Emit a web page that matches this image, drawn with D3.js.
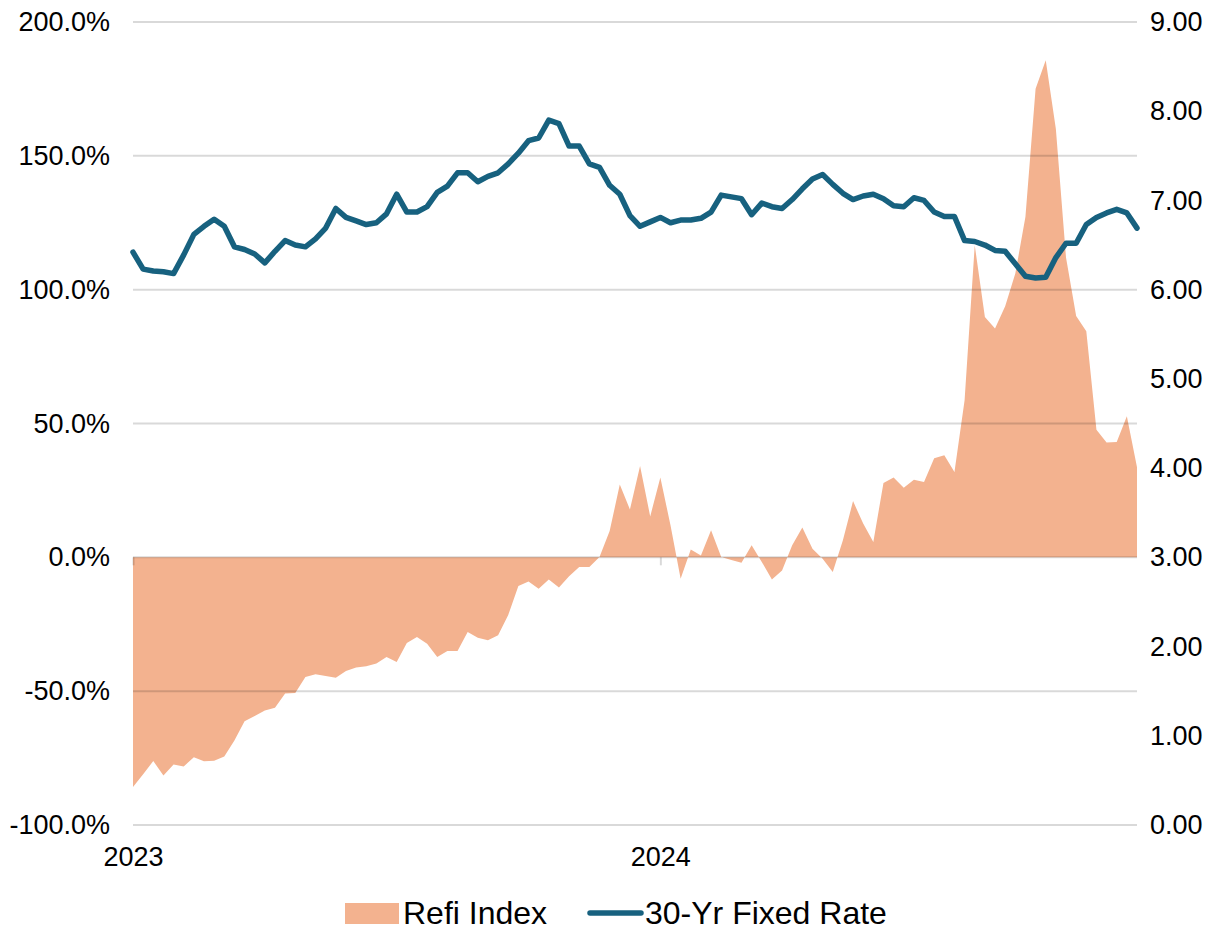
<!DOCTYPE html>
<html>
<head>
<meta charset="utf-8">
<script src="https://cdn.jsdelivr.net/npm/d3@7"></script>
<style>
	html, body { margin: 0; padding: 0; background: #fff; }
	#chart { width: 1217px; height: 929px; }
	text { font-family: 'Liberation Sans', Arial, sans-serif; fill: #000; }
</style>
</head>
<body>
<div id="chart"></div>
<script>

// weekly MBA data, first week ending Jan 6 2023, last Nov 29 2024
const firstWeek = '2023-01-06';

// refi index, % change year over year
const refiIndex = [
	-85.8, -81.0, -76.1, -81.5, -77.4, -78.1, -74.7, -76.2, -76.0, -74.4,
	-68.4, -61.2, -59.3, -57.2, -56.2, -50.9, -50.7, -44.7, -43.7, -44.3,
	-45.0, -42.5, -41.2, -40.7, -39.7, -37.2, -39.1, -32.0, -29.8, -32.3,
	-37.2, -35.0, -35.0, -27.9, -30.0, -31.0, -29.1, -21.5, -10.7, -9.0,
	-11.7, -8.3, -11.3, -7.1, -3.6, -3.6, 0.1, 9.8, 27.2, 17.9,
	34.1, 15.3, 29.8, 12.0, -8.0, 2.9, 0.7, 10.1, 0.1, -1.0,
	-2.0, 4.5, -1.7, -8.3, -4.9, 4.5, 11.1, 3.2, -0.5, -5.5,
	6.4, 21.0, 12.6, 5.7, 27.8, 29.8, 26.0, 29.0, 28.1, 37.0,
	38.1, 31.9, 58.7, 116.6, 89.8, 85.5, 93.8, 106.0, 127.2, 175.1,
	185.7, 160.0, 112.0, 90.2, 84.5, 47.7, 42.9, 43.1, 52.7, 33.7
];

// 30-yr fixed contract rate, %
const fixedRate = [
	6.42, 6.23, 6.21, 6.20, 6.18, 6.39, 6.62, 6.71, 6.79, 6.71,
	6.48, 6.45, 6.40, 6.30, 6.43, 6.55, 6.50, 6.48, 6.57, 6.69,
	6.91, 6.81, 6.77, 6.73, 6.75, 6.85, 7.07, 6.87, 6.87, 6.93,
	7.09, 7.16, 7.31, 7.31, 7.21, 7.27, 7.31, 7.41, 7.53, 7.67,
	7.70, 7.90, 7.86, 7.61, 7.61, 7.41, 7.37, 7.17, 7.07, 6.83,
	6.71, 6.76, 6.81, 6.75, 6.78, 6.78, 6.80, 6.87, 7.06, 7.04,
	7.02, 6.84, 6.97, 6.93, 6.91, 7.01, 7.13, 7.24, 7.29, 7.18,
	7.08, 7.01, 7.05, 7.07, 7.02, 6.94, 6.93, 7.03, 7.00, 6.87,
	6.82, 6.82, 6.55, 6.54, 6.50, 6.44, 6.43, 6.29, 6.15, 6.13,
	6.14, 6.36, 6.52, 6.52, 6.73, 6.81, 6.86, 6.90, 6.86, 6.69
];

const leftTicks = [-100, -50, 0, 50, 100, 150, 200];
const rightTicks = [0, 1, 2, 3, 4, 5, 6, 7, 8, 9];
const seriesNames = ['Refi Index', '30-Yr Fixed Rate'];

const colors = {
	refi: '#F3B28F',
	rate: '#17617F',
	grid: 'rgba(0,0,0,0.15)'
};

// week ending dates are the categories
const parse = d3.timeParse('%Y-%m-%d');
const weeks = refiIndex.map((d, i) => d3.timeDay.offset(parse(firstWeek), i * 7));
const data = weeks.map((w, i) => ({ week: w, refi: refiIndex[i], rate: fixedRate[i] }));

const width = 1217,
	height = 929,
	margin = { top: 22, right: 80, bottom: 104, left: 133 },
	innerWidth = width - margin.left - margin.right,
	innerHeight = height - margin.top - margin.bottom;

const svg = d3.select('#chart')
	.append('svg')
	.attr('width', width)
	.attr('height', height);

// ----------------------------------
// scales
// ----------------------------------

const xScale = d3.scalePoint()
	.domain(weeks.map(w => +w))
	.range([0, innerWidth]);

const yLeft = d3.scaleLinear()
	.domain([-100, 200])
	.range([innerHeight, 0]);

const yRight = d3.scaleLinear()
	.domain([0, 9])
	.range([innerHeight, 0]);

const g = svg.append('g')
	.attr('transform', `translate(${margin.left},${margin.top})`);

// refi area, filled from the zero line
const area = d3.area()
	.x(d => xScale(+d.week))
	.y0(yLeft(0))
	.y1(d => yLeft(d.refi));

g.append('path')
	.datum(data)
	.attr('class', 'refi-area')
	.attr('d', area)
	.style('fill', colors.refi);

// gridlines sit on top of the area, so they show through it
g.append('g')
	.attr('class', 'grid')
	.selectAll('line')
	.data(leftTicks)
	.join('line')
	.attr('x1', 0)
	.attr('x2', innerWidth)
	.attr('y1', d => yLeft(d))
	.attr('y2', d => yLeft(d))
	.style('stroke', colors.grid)
	.style('stroke-width', 2);

// year ticks on the zero line
const yearStarts = weeks.filter((w, i) => i === 0 || w.getFullYear() !== weeks[i - 1].getFullYear());

const xAxis = d3.axisBottom(xScale)
	.tickValues(yearStarts.map(w => +w))
	.tickFormat(d => d3.timeFormat('%Y')(new Date(d)))
	.tickSizeInner(8)
	.tickSizeOuter(0);

const xAxisG = g.append('g')
	.attr('class', 'x axis')
	.attr('transform', `translate(0,${yLeft(0)})`)
	.call(xAxis);
xAxisG.select('.domain').remove();
xAxisG.selectAll('.tick line')
	.style('stroke', colors.grid)
	.style('stroke-width', 2);
xAxisG.selectAll('.tick text')
	.attr('y', 0)
	.attr('dy', '0.35em')
	.attr('transform', `translate(0,${yLeft(-100) - yLeft(0) + 32})`)
	.style('font-size', '27px');

// rate line on the right axis
const line = d3.line()
	.x(d => xScale(+d.week))
	.y(d => yRight(d.rate));

g.append('path')
	.datum(data)
	.attr('class', 'rate-line')
	.attr('d', line)
	.style('fill', 'none')
	.style('stroke', colors.rate)
	.style('stroke-width', 5.5)
	.style('stroke-linejoin', 'round')
	.style('stroke-linecap', 'round');

// ----------------------------------
// axis labels
// ----------------------------------

// plain hyphen for negatives, like the original
const pct = d => d3.format('.1f')(d).replace('\u2212', '-') + '%';

const leftAxis = d3.axisLeft(yLeft)
	.tickValues(leftTicks)
	.tickFormat(pct)
	.tickSize(0)
	.tickPadding(23);

const leftG = g.append('g').attr('class', 'y axis left').call(leftAxis);
leftG.select('.domain').remove();
leftG.selectAll('text').style('font-size', '27px');

const rightAxis = d3.axisRight(yRight)
	.tickValues(rightTicks)
	.tickFormat(d3.format('.2f'))
	.tickSize(0)
	.tickPadding(13);

const rightG = g.append('g')
	.attr('class', 'y axis right')
	.attr('transform', `translate(${innerWidth},0)`)
	.call(rightAxis);
rightG.select('.domain').remove();
rightG.selectAll('text').style('font-size', '27px');

svg.selectAll('.axis text').attr('fill', '#000');

// ----------------------------------
// legend
// ----------------------------------

const legend = svg.append('g')
	.attr('class', 'legend')
	.attr('transform', 'translate(0,913)');

legend.append('rect')
	.attr('x', 345)
	.attr('y', -10)
	.attr('width', 54)
	.attr('height', 21)
	.style('fill', colors.refi);

legend.append('text')
	.attr('x', 403)
	.attr('y', 0)
	.attr('dy', '0.35em')
	.text(seriesNames[0])
	.style('font-size', '32px');

legend.append('line')
	.attr('x1', 590)
	.attr('x2', 641)
	.attr('y1', 0)
	.attr('y2', 0)
	.style('stroke', colors.rate)
	.style('stroke-width', 5.5)
	.style('stroke-linecap', 'round');

legend.append('text')
	.attr('x', 645)
	.attr('y', 0)
	.attr('dy', '0.35em')
	.text(seriesNames[1])
	.style('font-size', '32px');

</script>
</body>
</html>
